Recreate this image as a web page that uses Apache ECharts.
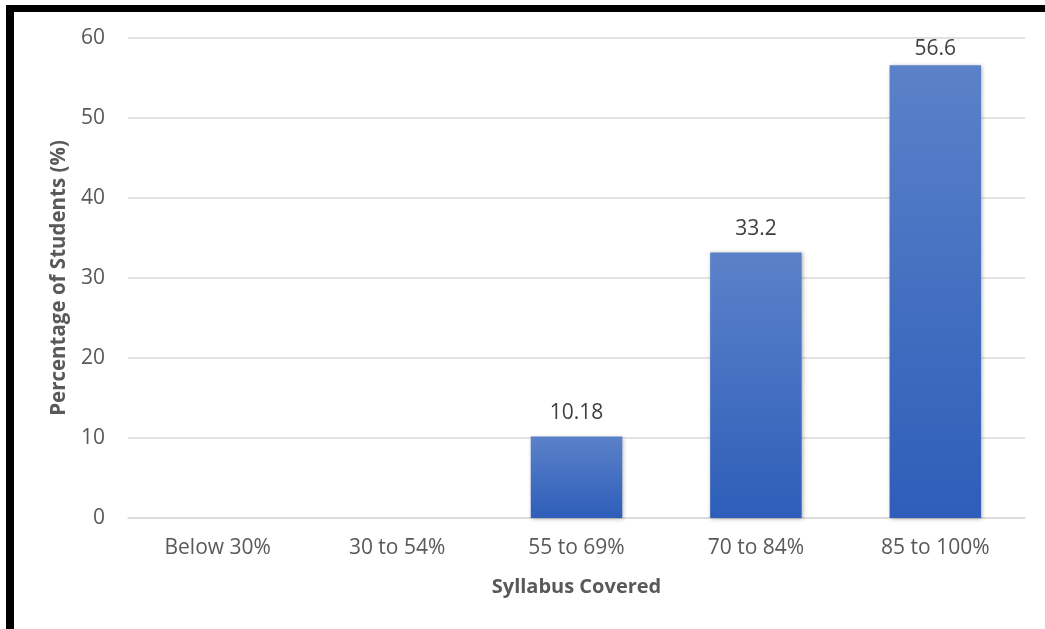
<!DOCTYPE html>
<html><head><meta charset="utf-8">
<script src="https://cdn.jsdelivr.net/npm/echarts@6/dist/echarts.min.js"></script>
<style>
html,body{margin:0;padding:0;background:#fff;}
#frame{position:absolute;left:6px;top:5px;width:1039px;height:624px;border-left:8px solid #000;border-top:7px solid #000;box-sizing:border-box;}
#chart{position:absolute;left:0;top:0;width:1045px;height:629px;}
</style></head>
<body>
<div id="frame"></div>
<div id="chart"></div>
<script>
const categories = ['Below 30%', '30 to 54%', '55 to 69%', '70 to 84%', '85 to 100%'];
const values = [null, null, 10.18, 33.2, 56.6];
const yTicks = [0, 10, 20, 30, 40, 50, 60];

const chart = echarts.init(document.getElementById('chart'), null, {renderer: 'canvas'});
const font = 'Open Sans';
// the tallest bar's label is squeezed under the top edge, as in the reference
const barData = values.map((v, i) => (i === values.length - 1 ? {value: v, label: {distance: 6}} : v));
chart.setOption({
  animation: false,
  grid: {left: 128, right: 20, top: 38, bottom: 111, containLabel: false},
  xAxis: {
    type: 'category', data: categories,
    name: 'Syllabus Covered', nameLocation: 'middle', nameGap: 59,
    nameTextStyle: {fontFamily: font, fontSize: 20, fontWeight: 'bold', color: '#595959'},
    axisLine: {show: true, lineStyle: {color: '#d9d9d9', width: 1.5}},
    axisTick: {show: false},
    axisLabel: {fontFamily: font, fontSize: 21, color: '#595959', margin: 20}
  },
  yAxis: {
    type: 'value', min: yTicks[0], max: yTicks[yTicks.length - 1], interval: 10,
    name: 'Percentage of Students (%)', nameLocation: 'middle', nameGap: 57,
    nameTextStyle: {fontFamily: font, fontSize: 20.5, fontWeight: 'bold', color: '#595959'},
    axisLine: {show: false}, axisTick: {show: false},
    axisLabel: {fontFamily: font, fontSize: 21, color: '#595959', margin: 23},
    splitLine: {lineStyle: {color: '#d9d9d9', width: 1.5}}
  },
  series: [{
    type: 'bar', data: barData, barWidth: '51%',
    itemStyle: {
      color: new echarts.graphic.LinearGradient(0, 0, 0, 1, [
        {offset: 0, color: '#5b81c9'}, {offset: 1, color: '#2e5eb9'}
      ]),
      shadowColor: 'rgba(0,0,0,0.3)', shadowBlur: 4, shadowOffsetX: 1, shadowOffsetY: 1
    },
    label: {show: true, position: 'top', distance: 13, fontFamily: font, fontSize: 21, color: '#404040'}
  }]
});
</script>
</body></html>
